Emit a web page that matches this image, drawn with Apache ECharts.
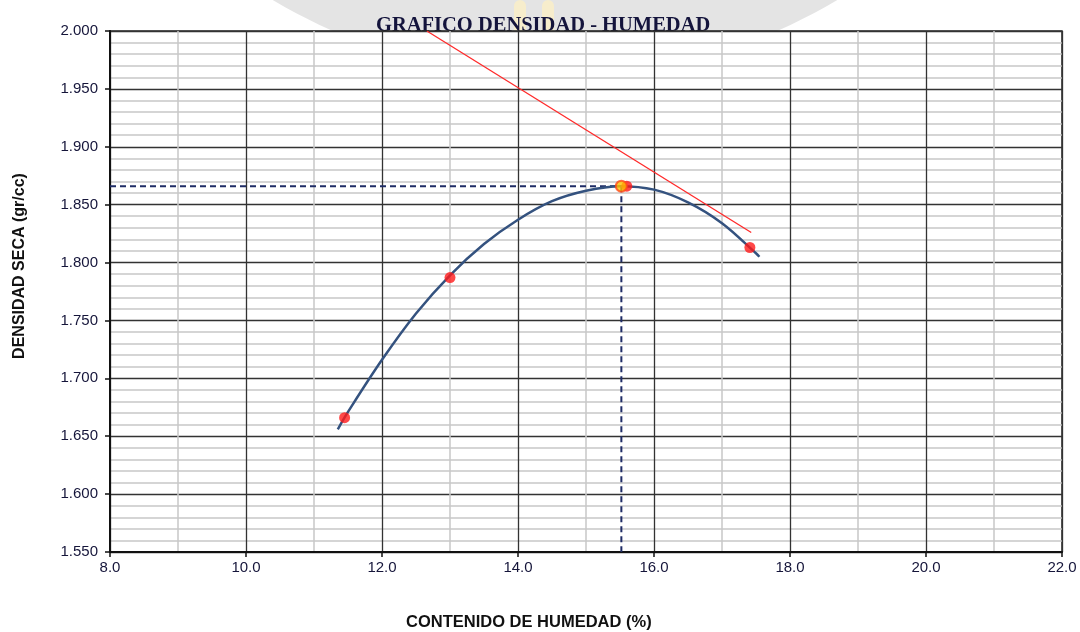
<!DOCTYPE html>
<html>
<head>
<meta charset="utf-8">
<script src="https://cdn.jsdelivr.net/npm/echarts@6/dist/echarts.min.js"></script>
<style>
  html, body { margin: 0; padding: 0; background: #ffffff; }
  #chart { width: 1080px; height: 632px; }
</style>
</head>
<body>
<div id="chart"></div>
<script>
// Proctor test: dry density vs. moisture content
const moisture = [11.45, 13.0, 15.6, 17.41];          // %
const dryDensity = [1.666, 1.787, 1.866, 1.813];      // gr/cc

// Fitted compaction curve
const curveX = [11.35, 11.5, 12.0, 12.5, 13.0, 13.5, 14.0, 14.5, 15.0, 15.5, 16.0, 16.5, 17.0, 17.5, 17.55];
const curveY = [1.656, 1.671, 1.716, 1.756, 1.789, 1.816, 1.837, 1.853, 1.862, 1.866, 1.863, 1.852, 1.834, 1.808, 1.805];

// Optimum moisture content / maximum dry density
const optimum = [15.52, 1.866];

// Zero-air-voids line
const satX = [12.66, 17.43];
const satY = [2.000, 1.826];

const xTicks = { min: 8, max: 22, step: 2 };
const yTicks = { min: 1.55, max: 2.0, step: 0.05 };

const zip = (a, b) => a.map((v, i) => [v, b[i]]);

const chart = echarts.init(document.getElementById('chart'));
const labelColor = '#15153a';
const axisFont = 'Liberation Sans, Arial, sans-serif';

chart.setOption({
  animation: false,
  backgroundColor: '#ffffff',
  graphic: [
    // faint logo behind the chart
    { type: 'circle', z: -10, shape: { cx: 555, cy: -472, r: 550 }, style: { fill: '#e4e4e4' } },
    { type: 'rect', z: -9, shape: { x: 514, y: 0, width: 12, height: 40, r: 6 }, style: { fill: '#f7edcc' } },
    { type: 'rect', z: -9, shape: { x: 542, y: 0, width: 12, height: 40, r: 6 }, style: { fill: '#f7edcc' } },
    {
      type: 'text', z: -1, left: 376, top: 15,
      style: { text: 'GRAFICO DENSIDAD - HUMEDAD', font: 'bold 20.5px "Liberation Serif", "Times New Roman", serif', fill: '#14143c' }
    },
    {
      type: 'text', left: 406, top: 614,
      style: { text: 'CONTENIDO DE HUMEDAD (%)', font: 'bold 16.5px ' + axisFont, fill: '#111111' }
    },
    {
      type: 'text', x: 12, y: 266, rotation: Math.PI / 2,
      style: { text: 'DENSIDAD SECA (gr/cc)', font: 'bold 16px ' + axisFont, fill: '#111111', align: 'center', verticalAlign: 'top' }
    }
  ],
  grid: {
    left: 110, right: 18, top: 31, bottom: 80,
    show: true, backgroundColor: '#ffffff', borderColor: '#222', borderWidth: 1.5
  },
  xAxis: {
    type: 'value', min: xTicks.min, max: xTicks.max, interval: xTicks.step,
    axisLine: { show: true, onZero: false, lineStyle: { color: '#111', width: 2 } },
    axisTick: { show: true, length: 5, lineStyle: { color: '#111', width: 1.5 } },
    axisLabel: { margin: 8, color: labelColor, fontSize: 15, fontFamily: axisFont, formatter: v => v.toFixed(1) },
    splitLine: { show: true, lineStyle: { color: '#333', width: 1.3 } },
    minorTick: { show: false, splitNumber: 2 },
    minorSplitLine: { show: true, lineStyle: { color: '#c8c8c8', width: 1.5 } }
  },
  yAxis: {
    type: 'value', min: yTicks.min, max: yTicks.max, interval: yTicks.step,
    axisLine: { show: true, onZero: false, lineStyle: { color: '#111', width: 2 } },
    axisTick: { show: true, length: 5, lineStyle: { color: '#111', width: 1.5 } },
    axisLabel: { margin: 12, color: labelColor, fontSize: 15, fontFamily: axisFont, formatter: v => v.toFixed(3) },
    splitLine: { show: true, lineStyle: { color: '#333', width: 1.3 } },
    minorTick: { show: false, splitNumber: 5 },
    minorSplitLine: { show: true, lineStyle: { color: '#c8c8c8', width: 1.5 } }
  },
  series: [
    {
      name: 'Saturación', type: 'line', data: zip(satX, satY), symbol: 'none',
      lineStyle: { color: '#ff2a2a', width: 1.3 }, z: 3
    },
    {
      name: 'Óptimo H', type: 'line', symbol: 'none',
      data: [[xTicks.min, optimum[1]], optimum],
      lineStyle: { color: '#1f2c66', width: 2, type: [6, 4] }, z: 3
    },
    {
      name: 'Óptimo V', type: 'line', symbol: 'none',
      data: [optimum, [optimum[0], yTicks.min]],
      lineStyle: { color: '#1f2c66', width: 2, type: [6, 4] }, z: 3
    },
    {
      name: 'Curva', type: 'line', data: zip(curveX, curveY), smooth: 0.35, symbol: 'none',
      lineStyle: { color: '#34527f', width: 2.5 }, z: 4
    },
    {
      name: 'Ensayos', type: 'scatter', data: zip(moisture, dryDensity), symbolSize: 11,
      itemStyle: { color: '#ff1a1a' }, z: 5
    },
    {
      name: 'Máxima', type: 'scatter', data: [optimum], symbolSize: 11,
      itemStyle: { color: '#ffc000', borderColor: '#ff4a1a', borderWidth: 2 }, z: 6
    }
  ]
});
</script>
</body>
</html>
